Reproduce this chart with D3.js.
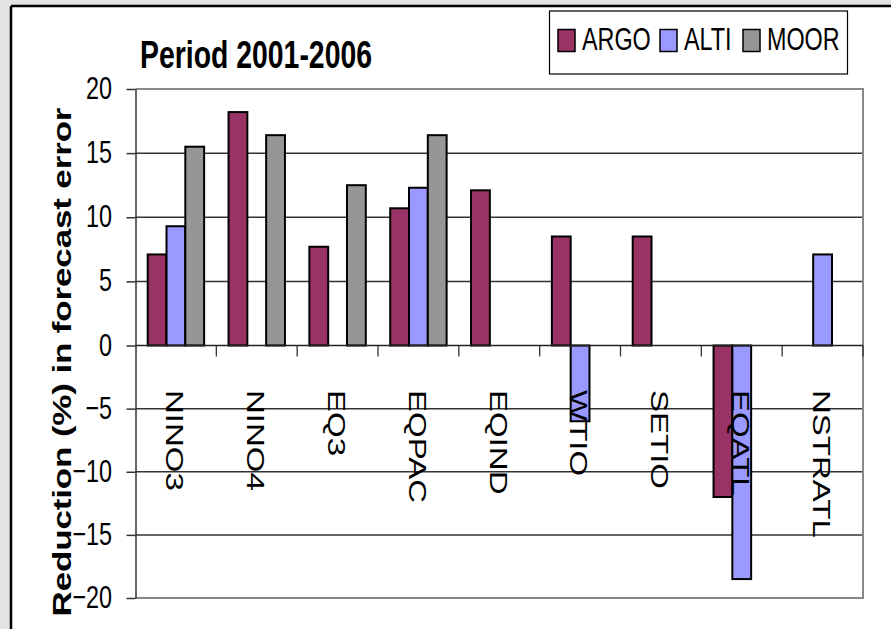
<!DOCTYPE html>
<html>
<head>
<meta charset="utf-8">
<script src="https://cdn.jsdelivr.net/npm/d3@7"></script>
<style>
  html, body { margin: 0; padding: 0; background: #ffffff; }
  svg { display: block; }
</style>
</head>
<body>
<script>
// ---- data ----
const categories = ["NINO3", "NINO4", "EQ3", "EQPAC", "EQIND", "WTIO", "SETIO", "EQATL", "NSTRATL"];
const seriesNames = ["ARGO", "ALTI", "MOOR"];
const argo = [7.1, 18.2, 7.7, 10.7, 12.1, 8.5, 8.5, -12.0, null];
const alti = [9.3, null, null, 12.3, null, -6.0, null, -18.5, 7.1];
const moor = [15.5, 16.4, 12.5, 16.4, null, null, null, null, null];
const yTicks = [-20, -15, -10, -5, 0, 5, 10, 15, 20];
const titleText = "Period 2001-2006";
const yTitle = "Reduction (%) in forecast error";

const seriesValues = { ARGO: argo, ALTI: alti, MOOR: moor };
const colors = { ARGO: "#993366", ALTI: "#9999FF", MOOR: "#969696" };

const W = 891, H = 629;
const SX = 0.73; // horizontal compression of the glyphs in the reference
const FONT = "'Liberation Sans', Arial, sans-serif";

const svg = d3.select("body").append("svg").attr("width", W).attr("height", H);

// frame
svg.append("rect").attr("x", 0).attr("y", 0).attr("width", W).attr("height", H).attr("fill", "#e4e4e4");
svg.append("rect").attr("x", 11).attr("y", 6).attr("width", W - 11).attr("height", H - 6).attr("fill", "#ffffff");
svg.append("line").attr("x1", 11).attr("x2", W).attr("y1", 6).attr("y2", 6).attr("stroke", "#000").attr("stroke-width", 2.5);
svg.append("line").attr("x1", 11).attr("x2", 11).attr("y1", 6).attr("y2", H).attr("stroke", "#000").attr("stroke-width", 2.5);

// scales
const plotL = 135.5, plotR = 863, plotT = 89, plotB = 598;
const x0 = d3.scaleBand().domain(categories).range([plotL, plotR]).paddingInner(0).paddingOuter(0);
const bw = x0.bandwidth();
const x1 = d3.scaleBand().domain(seriesNames).range([bw * 0.151, bw * 0.849]).padding(0);
const y = d3.scaleLinear().domain([-20, 0, 20]).range([plotB, 345.5, plotT]);

// gridlines
svg.append("g").selectAll("line").data(yTicks.filter(v => v !== 0 && v !== 20)).join("line")
  .attr("x1", plotL).attr("x2", plotR)
  .attr("y1", d => y(d)).attr("y2", d => y(d))
  .attr("stroke", "#333").attr("stroke-width", 1.5);

// plot border (top, right, bottom) in gray
svg.append("path")
  .attr("d", `M${plotL},${y(20)}H${plotR}V${y(-20)}H${plotL}`)
  .attr("fill", "none").attr("stroke", "#888").attr("stroke-width", 2);

// bars
const barData = [];
categories.forEach((c, i) => {
  seriesNames.forEach(s => {
    const v = seriesValues[s][i];
    if (v !== null && v !== undefined) barData.push({ c, s, v });
  });
});
svg.append("g").selectAll("rect").data(barData).join("rect")
  .attr("x", d => x0(d.c) + x1(d.s))
  .attr("width", x1.bandwidth())
  .attr("y", d => Math.min(y(d.v), y(0)))
  .attr("height", d => Math.abs(y(d.v) - y(0)))
  .attr("fill", d => colors[d.s])
  .attr("stroke", "#000").attr("stroke-width", 2);

// y axis
const yAxis = svg.append("g").attr("transform", `translate(${plotL},0)`)
  .call(d3.axisLeft(y).tickValues(yTicks).tickSize(9).tickSizeOuter(0).tickFormat(d3.format("d")));
yAxis.select(".domain").attr("stroke", "#333").attr("stroke-width", 1.5);
yAxis.selectAll(".tick line").attr("stroke", "#333").attr("stroke-width", 1.5);
yAxis.selectAll(".tick text")
  .attr("font-family", FONT).attr("font-size", 32).attr("fill", "#000")
  .attr("x", -23.5 / SX).attr("dy", "0.3em")
  .attr("transform", `scale(${SX},1)`);

// zero line with category ticks
svg.append("line").attr("x1", plotL).attr("x2", plotR).attr("y1", y(0)).attr("y2", y(0))
  .attr("stroke", "#222").attr("stroke-width", 1.6);
svg.append("g").selectAll("line").data(categories).join("line")
  .attr("x1", d => x0(d) + bw).attr("x2", d => x0(d) + bw)
  .attr("y1", y(0)).attr("y2", y(0) + 11)
  .attr("stroke", "#333").attr("stroke-width", 1.3);

// category labels (rotated, reading top-to-bottom)
svg.append("g").selectAll("text").data(categories).join("text")
  .attr("transform", d => `translate(${x0(d) + bw / 2 - 1},390) scale(${SX},1) rotate(90)`)
  .attr("x", 0).attr("y", 0)
  .attr("dy", "0.36em")
  .attr("text-anchor", "start")
  .attr("font-family", FONT).attr("font-size", 33).attr("fill", "#000")
  .text(d => d);

// title
svg.append("text")
  .attr("transform", `translate(140,68) scale(${SX},1)`)
  .attr("font-family", FONT).attr("font-size", 38).attr("font-weight", "bold")
  .attr("textLength", 232 / SX).attr("lengthAdjust", "spacingAndGlyphs")
  .text(titleText);

// y-axis title
svg.append("text")
  .attr("transform", `translate(71,362) scale(${SX},1) rotate(-90)`)
  .attr("text-anchor", "middle")
  .attr("font-family", FONT).attr("font-size", 35).attr("font-weight", "bold")
  .attr("textLength", 509).attr("lengthAdjust", "spacing")
  .text(yTitle);

// legend
const lg = svg.append("g");
lg.append("rect").attr("x", 549.5).attr("y", 11).attr("width", 298).attr("height", 63)
  .attr("fill", "#fff").attr("stroke", "#000").attr("stroke-width", 1.2);
const legendX = { ARGO: 558, ALTI: 660, MOOR: 743 };
seriesNames.forEach(s => {
  lg.append("rect").attr("x", legendX[s]).attr("y", 29.5).attr("width", 17).attr("height", 22)
    .attr("fill", colors[s]).attr("stroke", "#000").attr("stroke-width", 1.5);
  lg.append("text")
    .attr("transform", `translate(${legendX[s] + 24},50) scale(${SX},1)`)
    .attr("font-family", FONT).attr("font-size", 32).attr("fill", "#000")
    .text(s);
});
</script>
</body>
</html>
